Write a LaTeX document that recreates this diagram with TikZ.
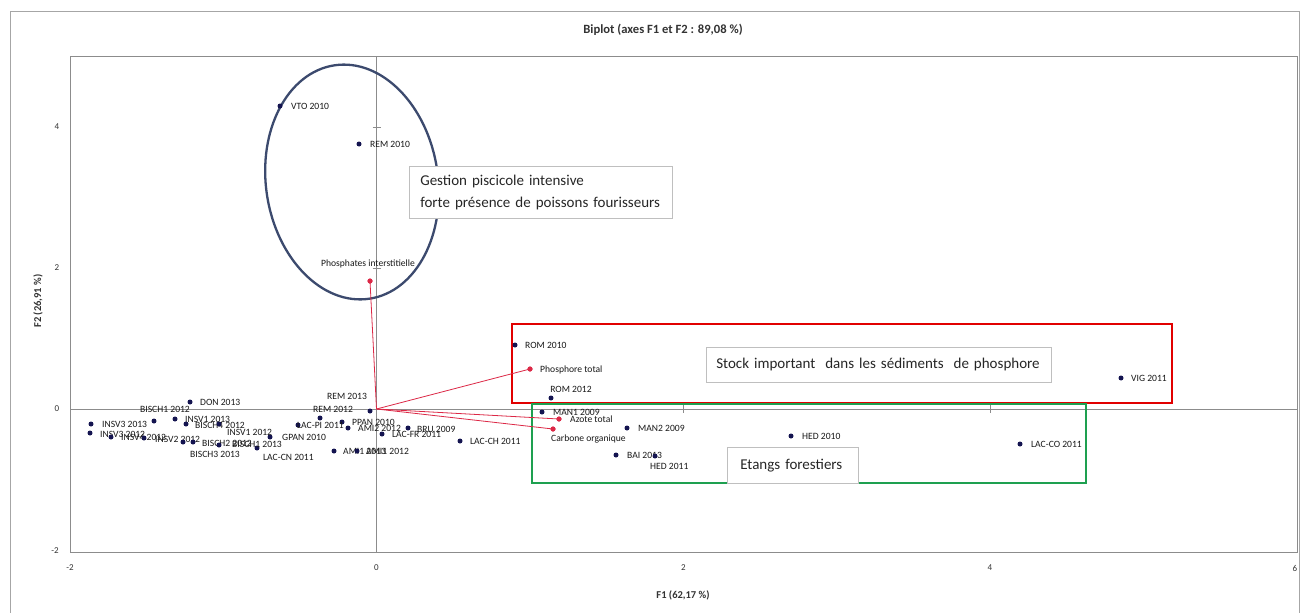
\documentclass[tikz,border=0pt]{standalone}
\usepackage{fontspec}
\setmainfont{Carlito}
\definecolor{navy}{RGB}{20,20,80}
\definecolor{vecred}{RGB}{220,40,70}
\definecolor{ellcol}{RGB}{60,74,110}
\definecolor{boxred}{RGB}{225,0,0}
\definecolor{boxgreen}{RGB}{30,160,80}
\definecolor{axgray}{RGB}{140,140,140}
\begin{document}
\begin{tikzpicture}[x=1pt,y=-1pt,
  dot/.style={circle,fill=navy,inner sep=0pt,minimum size=5pt},
  rdot/.style={circle,fill=vecred,inner sep=0pt,minimum size=5pt},
  lbl/.style={font=\fontsize{9.6}{10}\selectfont,inner sep=0pt,anchor=west,text=black!90},
  clbl/.style={font=\fontsize{9.6}{10}\selectfont,inner sep=0pt,text=black!90},
  tick/.style={font=\fontsize{9}{10}\selectfont,inner sep=0pt,text=black!80},
  atitle/.style={font=\bfseries\fontsize{10.5}{12}\selectfont,inner sep=0pt,text=black!80},
  axis/.style={draw=axgray,line width=0.7pt},
  vec/.style={draw=vecred,line width=0.8pt},
  annot/.style={draw=black!25,fill=white,line width=0.6pt,inner ysep=0pt,align=left,font=\fontsize{15}{22}\selectfont,text=black!85},
  grp/.style={line width=2.3pt}]
\useasboundingbox (0,0) rectangle (1301,613);
\fill[white] (0,0) rectangle (1301,613);
% outer frame
\draw[black!35,line width=0.8pt] (10,613) -- (10,11) -- (1299,11) -- (1299,613);
% title
\node[atitle,font=\bfseries\fontsize{12.6}{14}\selectfont] (title) at (663,30) {Biplot (axes F1 et F2 : 89,08 \%)};
% plot frame
\draw[axgray,line width=0.9pt] (70,56) rectangle (1297,552);
% axes
\draw[axis] (70,409) -- (1297,409);
\draw[axis] (376.5,56) -- (376.5,552);
\foreach \xx in {683.5,990} {\draw[axis] (\xx,405) -- (\xx,413);}
\foreach \yy in {127,268} {\draw[axis] (372.5,\yy) -- (380.5,\yy);}
% tick labels
\node[tick] (y4) at (57,127) {4};
\node[tick] (y2) at (57,268) {2};
\node[tick] (y0) at (57,409) {0};
\node[tick] (ym2) at (55,551) {-2};
\node[tick] (xm2) at (70,568) {-2};
\node[tick] (x0) at (376.5,568) {0};
\node[tick] (x2) at (683.5,568) {2};
\node[tick] (x4) at (990,568) {4};
\node[tick] (x6) at (1295,568) {6};
\node[atitle] (xt) at (683,595) {F1 (62,17 \%)};
\node[atitle,rotate=90] (yt) at (38,301) {F2 (26,91 \%)};
% group shapes
\draw[ellcol,grp,rotate around={8.5:(352,182)}] (352,182) ellipse [x radius=86, y radius=118];
\draw[boxred,grp] (512,324) rectangle (1172,403);
\draw[boxgreen,grp] (532,404) rectangle (1086,483);
% vectors
\coordinate (O) at (376.5,409);
\node[rdot] (PhI) at (370,281) {};
\node[rdot] (PhT) at (530,369) {};
\node[rdot] (AzT) at (559,419) {};
\node[rdot] (CO) at (553,429) {};
\draw[vec] (O) -- (PhI.center);
\draw[vec] (O) -- (PhT.center);
\draw[vec] (O) -- (AzT.center);
\draw[vec] (O) -- (CO.center);
\node[rdot] at (PhI) {};
\node[rdot] at (PhT) {};
\node[rdot] at (AzT) {};
\node[rdot] at (CO) {};
\node[clbl] (PhIl) at (368,264) {Phosphates interstitielle};
\node[lbl] (PhTl) at (540,370) {Phosphore total};
\node[lbl] (AzTl) at (570,419) {Azote total};
\node[lbl] (COl) at (551,439) {Carbone organique};
% observations
\node[dot] (vto10) at (280,106) {};   \node[lbl] at (291,106) {VTO 2010};
\node[dot] (rem10) at (359,144) {};   \node[lbl] at (370,144) {REM 2010};
\node[dot] (rom10) at (515,345) {};   \node[lbl] at (525,345) {ROM 2010};
\node[dot] (rom12) at (551,398) {};   \node[clbl] at (571,389) {ROM 2012};
\node[dot] (man1) at (542,412) {};    \node[lbl] at (553,412) {MAN1 2009};
\node[dot] (man2) at (627,428) {};    \node[lbl] at (638,428) {MAN2 2009};
\node[dot] (bai13) at (616,455) {};   \node[lbl] at (627,455) {BAI 2013};
\node[dot] (hed11) at (655,456) {};   \node[lbl] at (650,466) {HED 2011};
\node[dot] (hed10) at (791,436) {};   \node[lbl] at (802,436) {HED 2010};
\node[dot] (lacco) at (1020,444) {};  \node[lbl] at (1031,444) {LAC-CO 2011};
\node[dot] (vig11) at (1121,378) {};  \node[lbl] at (1131,378) {VIG 2011};
\node[dot] (lacch) at (460,441) {};   \node[lbl] at (470,441) {LAC-CH 2011};
\node[dot] (bru09) at (408,428) {};   \node[lbl] at (417,429) {BRU 2009};
\node[dot] (lacfr) at (382,434) {};   \node[lbl] at (392,434) {LAC-FR 2011};
\node[dot] (ami2) at (348,428) {};    \node[lbl] at (358,428) {AMI2 2012};
\node[dot] (ppan) at (342,422) {};    \node[lbl] at (352,422) {PPAN 2010};
\node[dot] (rem13) at (370,411) {};   \node[lbl] at (327,396) {REM 2013};
\node[dot] (rem12) at (320,418) {};   \node[lbl] at (313,409) {REM 2012};
\node[dot] (lacpi) at (298,425) {};   \node[lbl] at (297,425) {LAC-PI 2011};
\node[dot] (ami13) at (334,451) {};   \node[lbl] at (343,451) {AMI1 2013};
\node[dot] (ami12) at (357,451) {};   \node[lbl] at (366,451) {AMI1 2012};
\node[dot] (gpan) at (270,437) {};    \node[lbl] at (282,437) {GPAN 2010};
\node[dot] (laccn) at (257,448) {};   \node[lbl] at (263,457) {LAC-CN 2011};
\node[dot] (don13) at (190,402) {};   \node[lbl] at (200,402) {DON 2013};
\node[dot] (insv313) at (91,424) {};  \node[lbl] at (102,424) {INSV3 2013};
\node[dot] (insv312) at (90,433) {};  \node[lbl] at (100,434) {INSV3 2012};
\node[dot] (insv412) at (111,437) {}; \node[lbl] at (121,437) {INSV4 2012};
\node[dot] (insv212) at (144,438) {}; \node[lbl] at (155,439) {INSV2 2012};
\node[dot] (bisch112) at (154,421) {};\node[lbl] at (140,409) {BISCH1 2012};
\node[dot] (insv113) at (175,419) {}; \node[lbl] at (185,419) {INSV1 2013};
\node[dot] (bisch412) at (186,424) {};\node[lbl] at (195,425) {BISCH4 2012};
\node[dot] (bisch512) at (219,424) {};
\node[dot] (insv112) at (183,442) {}; \node[lbl] at (227,432) {INSV1 2012};
\node[dot] (bisch212) at (193,442) {};\node[lbl] at (202,443) {BISCH2 2012};
\node[dot] (bisch113) at (219,445) {};\node[lbl] at (232,444) {BISCH1 2013};
\node[lbl] (bisch313l) at (190,454) {BISCH3 2013};
% annotations
\node[annot,inner xsep=11pt,text width=241pt,minimum height=52pt,anchor=north west] (gest) at (409,166)
  {Gestion piscicole intensive\\forte présence de poissons fourisseurs};
\node[annot,inner xsep=10pt,text width=325pt,minimum height=35pt,anchor=north west] (stock) at (706,347)
  {Stock important\ \ dans les sédiments\ \ de phosphore};
\node[annot,inner xsep=13pt,text width=105pt,minimum height=36pt,anchor=north west] (etangs) at (727,447)
  {Etangs forestiers};
\end{tikzpicture}
\end{document}
